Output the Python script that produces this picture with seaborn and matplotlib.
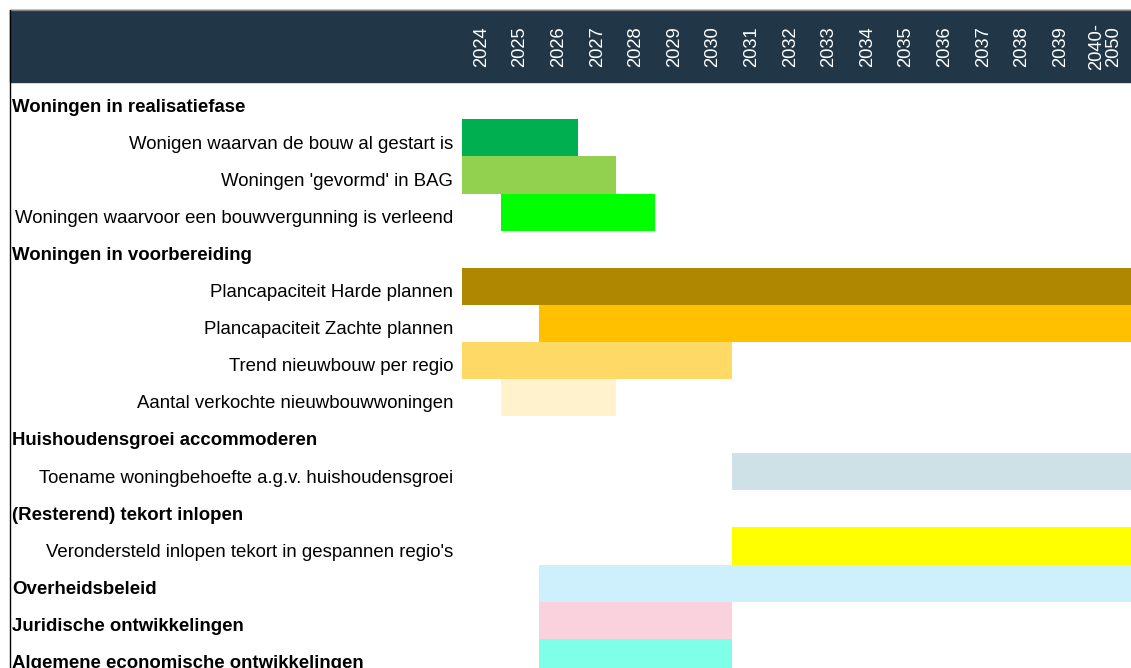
import numpy as np
import pandas as pd
import matplotlib
matplotlib.use('Agg')
import matplotlib.pyplot as plt
from matplotlib.patches import Rectangle
from matplotlib.lines import Line2D
import seaborn as sns

# rows of the planning table, top to bottom (bold = section heading)
row_labels = [
    "Woningen in realisatiefase",
    "Wonigen waarvan de bouw al gestart is",
    "Woningen 'gevormd' in BAG",
    "Woningen waarvoor een bouwvergunning is verleend",
    "Woningen in voorbereiding",
    "Plancapaciteit Harde plannen",
    "Plancapaciteit Zachte plannen",
    "Trend nieuwbouw per regio",
    "Aantal verkochte nieuwbouwwoningen",
    "Huishoudensgroei accommoderen",
    "Toename woningbehoefte a.g.v. huishoudensgroei",
    "(Resterend) tekort inlopen",
    "Verondersteld inlopen tekort in gespannen regio's",
    "Overheidsbeleid",
    "Juridische ontwikkelingen",
    "Algemene economische ontwikkelingen",
]
bold_rows = [True, False, False, False, True, False, False, False, False,
             True, False, True, False, True, True, True]

years = ["2024", "2025", "2026", "2027", "2028", "2029", "2030", "2031",
         "2032", "2033", "2034", "2035", "2036", "2037", "2038", "2039",
         "2040-\n2050"]

# bars: first and last year column (inclusive)
bar_labels = [
    "Wonigen waarvan de bouw al gestart is",
    "Woningen 'gevormd' in BAG",
    "Woningen waarvoor een bouwvergunning is verleend",
    "Plancapaciteit Harde plannen",
    "Plancapaciteit Zachte plannen",
    "Trend nieuwbouw per regio",
    "Aantal verkochte nieuwbouwwoningen",
    "Toename woningbehoefte a.g.v. huishoudensgroei",
    "Verondersteld inlopen tekort in gespannen regio's",
    "Overheidsbeleid",
    "Juridische ontwikkelingen",
    "Algemene economische ontwikkelingen",
]
bar_first = ["2024", "2024", "2025", "2024", "2026", "2024", "2025",
             "2031", "2031", "2026", "2026", "2026"]
bar_last = ["2026", "2027", "2028", "2040-\n2050", "2040-\n2050", "2030", "2027",
            "2040-\n2050", "2040-\n2050", "2040-\n2050", "2030", "2030"]
bar_colors = ["#00B050", "#92D050", "#00FF00", "#AF8700", "#FFC000", "#FFD966",
              "#FFF2CC", "#CDE1E6", "#FFFF00", "#CEF0FC", "#F9D2DE", "#80FFE8"]

# column edges, last column (2040-2050) is a bit wider
col_w = np.array([1.0] * 16 + [1.33])
edges = np.concatenate([[0.0], np.cumsum(col_w)])
centers = (edges[:-1] + edges[1:]) / 2
yidx = {y: i for i, y in enumerate(years)}

df = pd.DataFrame({
    "label": bar_labels,
    "start": [edges[yidx[y]] for y in bar_first],
    "end": [edges[yidx[y] + 1] for y in bar_last],
})
df["duration"] = df["end"] - df["start"]

sns.set_theme(style="white")
plt.rcParams['font.family'] = ['Liberation Sans', 'DejaVu Sans']

W, H = 1131, 668
fig = plt.figure(figsize=(W / 100, H / 100), dpi=100)
ax = fig.add_axes([0, 0, 1, 1])

sns.barplot(data=df, x="duration", y="label", hue="label",
            palette=dict(zip(bar_labels, bar_colors)), order=row_labels,
            width=1.0, saturation=1, errorbar=None, legend=False, ax=ax,
            linewidth=0)

# shift each bar to its start column
start_of = dict(zip(df["label"], df["start"]))
for p in ax.patches:
    r = int(round(p.get_y() + p.get_height() / 2))
    p.set_x(start_of[row_labels[r]])

col_px = 38.6
row_px = 37.1
x_left = -462 / col_px
x_right = edges[-1]
y_top = -0.5 - 82.2 / row_px
y_bot = -0.5 + (H - 82.2) / row_px
ax.set_xlim(x_left, x_right)
ax.set_ylim(y_bot, y_top)
ax.axis('off')

# dark header band with the year columns
hdr_top = -0.5 - (82.2 - 10) / row_px
ax.add_patch(Rectangle((x_left + 10 / col_px, hdr_top), x_right - x_left,
                       -0.5 - hdr_top, color="#213747", zorder=0))
for yr, cx in zip(years, centers):
    ax.text(cx, -1.47, yr, rotation=90, color="white", fontsize=13.2,
            ha="center", va="center", multialignment="center", linespacing=1.0)

# row labels
for i, (lab, b) in enumerate(zip(row_labels, bold_rows)):
    if b:
        ax.text(x_left + 12 / col_px, i + 0.17, lab, fontsize=13.4, fontweight="bold",
                ha="left", va="center", color="black")
    else:
        ax.text(-9 / col_px, i + 0.17, lab, fontsize=13.4,
                ha="right", va="center", color="black")

# table border lines
fig.add_artist(Line2D([10 / W, 1], [1 - 10 / H, 1 - 10 / H], color="#808080", lw=1))
fig.add_artist(Line2D([10 / W, 10 / W], [0, 1 - 10 / H], color="black", lw=1))

fig.savefig("out.png", dpi=100)
plt.close(fig)
